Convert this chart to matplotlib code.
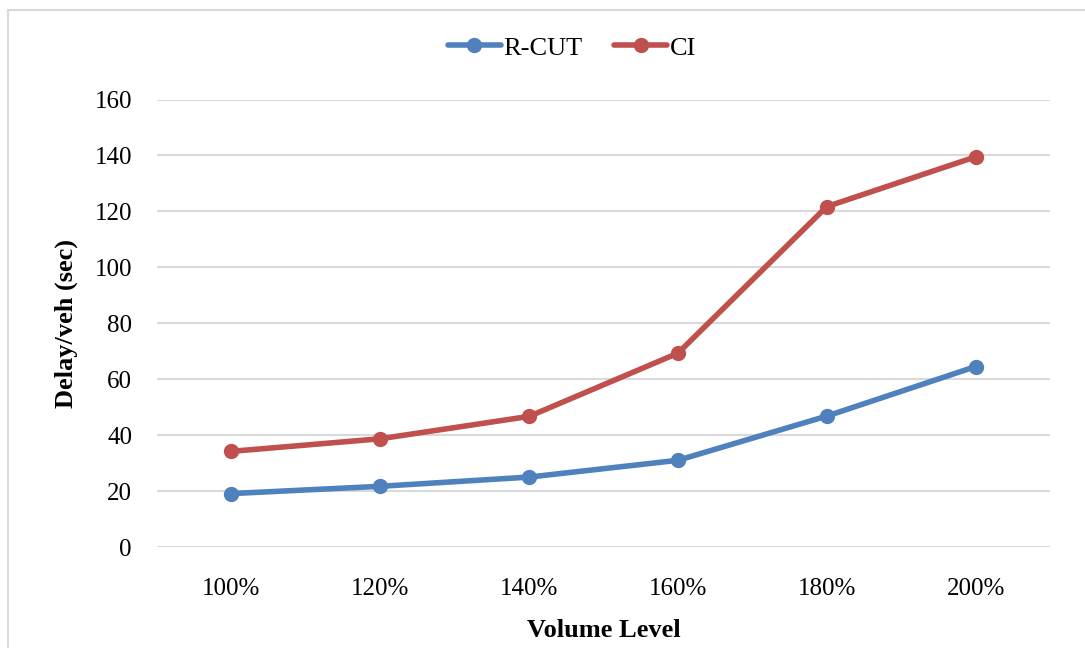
import matplotlib.pyplot as plt
from matplotlib.patches import Rectangle

# data
levels = ['100%', '120%', '140%', '160%', '180%', '200%']
rcut = [19.1, 21.7, 25.0, 31.0, 46.8, 64.5]
ci = [34.2, 38.7, 46.7, 69.3, 121.7, 139.5]

plt.rcParams['font.family'] = ['Liberation Serif', 'DejaVu Serif']

fig = plt.figure(figsize=(10.85, 6.48), dpi=100)
ax = fig.add_axes([157 / 1085, 1 - 547 / 648, 893 / 1085, 447.5 / 648])

x = range(len(levels))
ax.plot(x, rcut, color='#4F81BD', lw=4, marker='o', markersize=10, label='R-CUT',
        solid_capstyle='round')
ax.plot(x, ci, color='#C0504D', lw=4, marker='o', markersize=10, label='CI',
        solid_capstyle='round')

ax.set_xlim(-0.5, len(levels) - 0.5)
ax.set_ylim(0, 160)
ax.set_yticks(range(0, 161, 20))
ax.set_xticks(list(x))
ax.set_xticklabels(levels)
ax.tick_params(length=0, labelsize=18, colors='black')
ax.tick_params(axis='y', pad=18)
ax.tick_params(axis='x', pad=22)
ax.grid(axis='y', color='#D9D9D9', lw=1.5)
ax.set_axisbelow(True)
for s in ax.spines.values():
    s.set_visible(False)

ax.set_xlabel('Volume Level', fontsize=19, fontweight='bold', labelpad=14)
ax.set_ylabel('Delay/veh (sec)', fontsize=19, fontweight='bold', labelpad=12)

fig.legend(loc='center', bbox_to_anchor=(572 / 1085, 1 - 48 / 648), ncol=2, frameon=False,
           fontsize=19, handlelength=2.0, columnspacing=1.2, handletextpad=0.1)

# light frame around the chart area
fig.patches.append(Rectangle((8 / 1085, -0.05), 1.1, 1 - 10 / 648 + 0.05,
                             transform=fig.transFigure, fill=False,
                             edgecolor='#D9D9D9', lw=1.5))

fig.savefig('out.png', dpi=100)
